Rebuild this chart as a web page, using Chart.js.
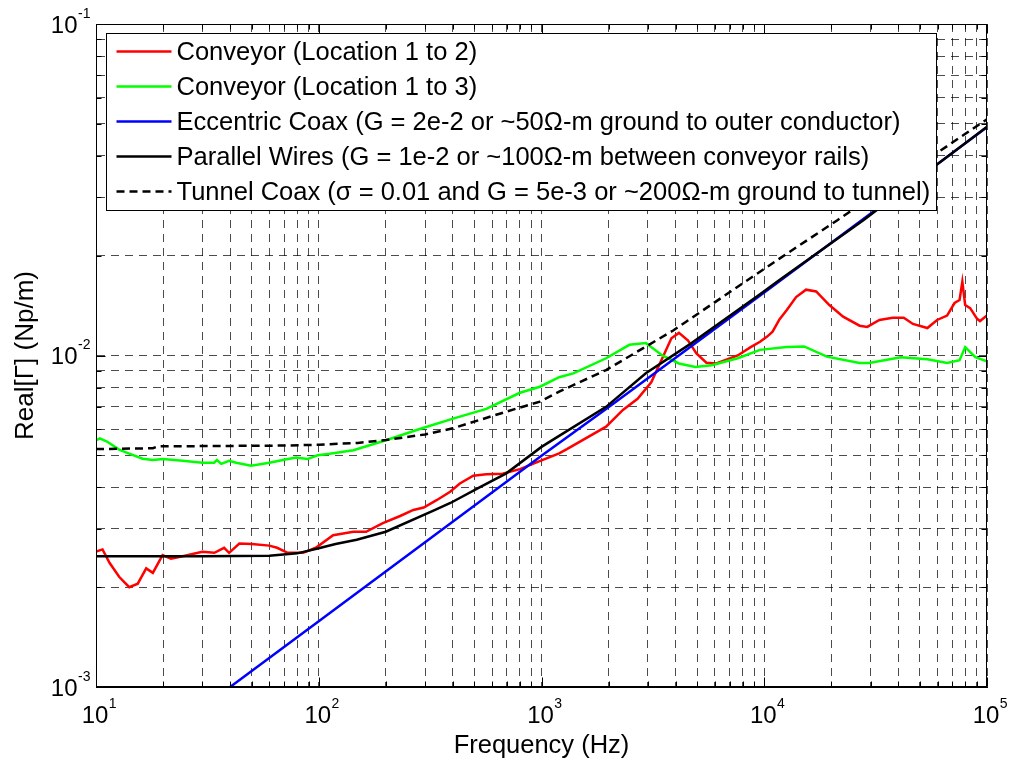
<!DOCTYPE html>
<html>
<head>
<meta charset="utf-8">
<title>Real[Γ] vs Frequency</title>
<script src="https://cdn.jsdelivr.net/npm/chart.js@4.4.1/dist/chart.umd.min.js"></script>
<style>
  html, body { margin: 0; padding: 0; background: #fff; }
  #wrap { width: 1011px; height: 761px; }
</style>
</head>
<body>
<div id="wrap"><canvas id="gammaChart" width="1011" height="761"></canvas></div>
<script>
// ---- data (Hz, Np/m) ----
const redFreq = [10, 10.7, 11.5, 12.7, 14.1, 15.4, 16.8, 18, 19.9, 21.7, 24.5, 30, 34, 37.6, 39.6, 44, 50, 60, 65, 72.5, 85, 97,
  116, 143, 163, 194, 232, 266, 296, 338, 389, 430, 494, 565, 668, 800, 950, 1200, 1300, 1950, 2320, 2700, 3110, 3510, 3830,
  4140, 4550, 4960, 5500, 6090, 7600, 8690, 9570, 10300, 10900, 11700, 12600, 13900, 15400, 17100, 19600, 22600, 26800,
  29000, 32900, 37700, 42300, 46500, 54000, 59700, 66200, 71500, 75300, 77500, 79800, 84000, 90300, 93000, 100000];
const redVal = [2.56e-3, 2.60e-3, 2.37e-3, 2.15e-3, 2.0e-3, 2.05e-3, 2.28e-3, 2.21e-3, 2.5e-3, 2.44e-3, 2.48e-3, 2.56e-3, 2.54e-3,
  2.63e-3, 2.54e-3, 2.71e-3, 2.70e-3, 2.67e-3, 2.63e-3, 2.54e-3, 2.54e-3, 2.63e-3, 2.87e-3, 2.94e-3, 2.94e-3, 3.12e-3, 3.28e-3,
  3.42e-3, 3.48e-3, 3.66e-3, 3.88e-3, 4.11e-3, 4.34e-3, 4.38e-3, 4.40e-3, 4.54e-3, 4.76e-3, 5.07e-3, 5.22e-3, 6.1e-3, 6.85e-3,
  7.4e-3, 8.3e-3, 9.92e-3, 1.127e-2, 1.17e-2, 1.11e-2, 1.015e-2, 9.51e-3, 9.46e-3, 1.0e-2, 1.06e-2, 1.1e-2, 1.14e-2, 1.18e-2,
  1.285e-2, 1.37e-2, 1.5e-2, 1.58e-2, 1.56e-2, 1.42e-2, 1.31e-2, 1.23e-2, 1.22e-2, 1.28e-2, 1.30e-2, 1.30e-2, 1.245e-2, 1.21e-2,
  1.28e-2, 1.32e-2, 1.44e-2, 1.47e-2, 1.67e-2, 1.42e-2, 1.39e-2, 1.29e-2, 1.27e-2, 1.32e-2];

const greenFreq = [10, 10.4, 11.2, 12.7, 14.1, 16.2, 18, 20, 24.5, 30, 33.9, 34.9, 36.5, 39.6, 42.6, 49.7, 60, 69, 79, 89, 99, 112,
  143, 202, 284, 401, 565, 800, 984, 1200, 1390, 1950, 2480, 2940, 3490, 4140, 4900, 5810, 7600, 9570, 12600, 15100, 19100,
  26800, 29600, 41000, 54000, 66200, 75300, 79800, 88700, 100000];
const greenVal = [5.55e-3, 5.62e-3, 5.5e-3, 5.2e-3, 5.06e-3, 4.88e-3, 4.84e-3, 4.87e-3, 4.81e-3, 4.75e-3, 4.75e-3, 4.84e-3, 4.71e-3,
  4.81e-3, 4.75e-3, 4.65e-3, 4.75e-3, 4.84e-3, 4.92e-3, 4.87e-3, 5.0e-3, 5.05e-3, 5.18e-3, 5.56e-3, 6.0e-3, 6.45e-3, 6.9e-3,
  7.72e-3, 8.05e-3, 8.6e-3, 8.83e-3, 9.81e-3, 1.077e-2, 1.09e-2, 1.0e-2, 9.46e-3, 9.24e-3, 9.34e-3, 9.81e-3, 1.04e-2, 1.06e-2,
  1.065e-2, 9.92e-3, 9.5e-3, 9.5e-3, 9.88e-3, 9.74e-3, 9.5e-3, 9.68e-3, 1.06e-2, 9.88e-3, 9.6e-3];

const blueFreq = [40, 100, 1000, 1950, 10000, 100000];
const blueVal = [1.0e-3, 1.58e-3, 4.98e-3, 6.9e-3, 1.55e-2, 4.88e-2];

const blackFreq = [10, 30, 60, 80, 100, 119, 148, 200, 333, 390, 527, 695, 1000, 1200, 1950, 2940, 4700, 9570, 11700, 27850, 100000];
const blackVal = [2.48e-3, 2.48e-3, 2.49e-3, 2.53e-3, 2.62e-3, 2.70e-3, 2.78e-3, 2.94e-3, 3.42e-3, 3.59e-3, 4.0e-3, 4.41e-3,
  5.3e-3, 5.72e-3, 7.0e-3, 8.84e-3, 1.088e-2, 1.53e-2, 1.69e-2, 2.56e-2, 4.9e-2];

const dashFreq = [10, 18, 19, 70, 100, 150, 200, 300, 400, 695, 984, 1200, 1950, 3900, 9570, 11700, 21300, 50000, 100000];
const dashVal = [5.22e-3, 5.25e-3, 5.32e-3, 5.35e-3, 5.38e-3, 5.45e-3, 5.56e-3, 5.78e-3, 6.03e-3, 6.77e-3, 7.26e-3, 7.78e-3,
  9.04e-3, 1.19e-2, 1.79e-2, 1.96e-2, 2.56e-2, 3.77e-2, 5.16e-2];

const seriesLabels = [
  'Conveyor (Location 1 to 2)',
  'Conveyor (Location 1 to 3)',
  'Eccentric Coax (G = 2e-2 or ~50Ω-m ground to outer conductor)',
  'Parallel Wires (G = 1e-2 or ~100Ω-m between conveyor rails)',
  'Tunnel Coax (σ = 0.01 and G = 5e-3 or ~200Ω-m ground to tunnel)'
];

// axis ticks: decades and their exponent labels
const xTickValues = [10, 100, 1000, 10000, 100000];
const xTickExps = ['1', '2', '3', '4', '5'];
const yTickValues = [0.001, 0.01, 0.1];
const yTickExps = ['-3', '-2', '-1'];
const minorSteps = [2, 3, 4, 5, 6, 7, 8, 9];

const xLabel = 'Frequency (Hz)';
const yLabel = 'Real[Γ] (Np/m)';

// grid values: every decade plus 2..9 inside it
function logGrid(decades) {
  const out = [];
  decades.forEach((d, i) => {
    out.push(d);
    if (i < decades.length - 1) minorSteps.forEach(m => out.push(d * m));
  });
  return out;
}
const xGrid = logGrid(xTickValues);
const yGrid = logGrid(yTickValues);

function pairs(fs, vs) {
  return fs.map((f, i) => ({ x: f, y: vs[i] }));
}

const FONT = 'Arial, "Liberation Sans", Helvetica, sans-serif';

function isDecade(v) {
  const l = Math.log10(v);
  return Math.abs(l - Math.round(l)) < 1e-9;
}

function baseWidth(ctx) {
  ctx.font = '24px ' + FONT;
  return ctx.measureText('10').width;
}
function drawPow(ctx, exp, left, baseline) {
  ctx.font = '24px ' + FONT;
  ctx.fillText('10', left, baseline);
  const w = ctx.measureText('10').width;
  ctx.font = '14px ' + FONT;
  ctx.fillText(exp, left + w + 0.5, baseline - 15);
}
function powWidth(ctx, exp) {
  const w = baseWidth(ctx);
  ctx.font = '14px ' + FONT;
  return w + 0.5 + ctx.measureText(exp).width;
}

const matlabAxes = {
  id: 'matlabAxes',
  afterDraw(chart) {
    const { ctx, chartArea: a, scales: { x, y } } = chart;
    const L = Math.round(a.left) + 0.5, R = Math.round(a.right) - 0.5;
    const T = Math.round(a.top) + 0.5, B = Math.round(a.bottom) - 0.5;
    ctx.save();
    ctx.strokeStyle = '#000';
    ctx.lineWidth = 1;
    ctx.setLineDash([]);
    ctx.strokeRect(L, T, R - L, B - T);

    // inward tick marks on all four sides
    ctx.beginPath();
    xGrid.forEach(v => {
      const px = Math.round(x.getPixelForValue(v)) + 0.5;
      const len = isDecade(v) ? 9 : 5;
      ctx.moveTo(px, B); ctx.lineTo(px, B - len);
      ctx.moveTo(px, T); ctx.lineTo(px, T + len);
    });
    yGrid.forEach(v => {
      const py = Math.round(y.getPixelForValue(v)) + 0.5;
      const len = isDecade(v) ? 9 : 5;
      ctx.moveTo(L, py); ctx.lineTo(L + len, py);
      ctx.moveTo(R, py); ctx.lineTo(R - len, py);
    });
    ctx.stroke();

    // tick labels 10^n ("10" centred on the tick, exponent to its right)
    ctx.fillStyle = '#000';
    ctx.textBaseline = 'alphabetic';
    ctx.textAlign = 'left';
    xTickValues.forEach((v, i) => {
      const px = x.getPixelForValue(v);
      const w = baseWidth(ctx);
      drawPow(ctx, xTickExps[i], px - w / 2 - 1, B + 36);
    });
    yTickValues.forEach((v, i) => {
      const py = y.getPixelForValue(v);
      const w = powWidth(ctx, yTickExps[i]);
      drawPow(ctx, yTickExps[i], L - 6 - w, py + 8.5);
    });

    // axis titles
    ctx.textAlign = 'center';
    ctx.font = '25.5px ' + FONT;
    ctx.fillText(xLabel, (a.left + a.right) / 2, 753);
    ctx.save();
    ctx.font = '26px ' + FONT;
    ctx.translate(33, (a.top + a.bottom) / 2);
    ctx.rotate(-Math.PI / 2);
    ctx.fillText(yLabel, 0, 0);
    ctx.restore();

    // legend box inside the axes, top-left
    const sets = chart.data.datasets;
    ctx.font = '22px ' + FONT;
    let maxW = 0;
    sets.forEach(d => { maxW = Math.max(maxW, ctx.measureText(d.label).width); });
    const fs = Math.max(18, Math.min(26, 22 * 754 / maxW));
    ctx.font = fs + 'px ' + FONT;
    maxW = 0;
    sets.forEach(d => { maxW = Math.max(maxW, ctx.measureText(d.label).width); });
    const bx = Math.round(a.left) + 10.5, by = Math.round(a.top) + 9.5;
    const textX = bx + 70;
    const bw = Math.round(textX + maxW + 6 - bx), bh = 177;
    ctx.fillStyle = '#fff';
    ctx.fillRect(bx, by, bw, bh);
    ctx.strokeStyle = '#000';
    ctx.lineWidth = 1;
    ctx.strokeRect(bx, by, bw, bh);
    ctx.textAlign = 'left';
    ctx.textBaseline = 'middle';
    sets.forEach((d, i) => {
      const cy = by + 18 + i * 35;
      ctx.strokeStyle = d.borderColor;
      ctx.lineWidth = d.borderWidth;
      ctx.setLineDash(d.borderDash || []);
      ctx.beginPath();
      ctx.moveTo(bx + 10, cy);
      ctx.lineTo(bx + 65, cy);
      ctx.stroke();
      ctx.setLineDash([]);
      ctx.fillStyle = '#000';
      ctx.fillText(d.label, textX, cy + 1);
    });
    ctx.restore();
  }
};

function series(label, fs, vs, color, order, dash) {
  return {
    label: label,
    data: pairs(fs, vs),
    borderColor: color,
    backgroundColor: color,
    borderWidth: 2.5,
    borderDash: dash || [],
    pointRadius: 0,
    tension: 0,
    fill: false,
    order: order
  };
}

const gridOpts = { color: 'rgba(0,0,0,0.7)', lineWidth: 1, drawTicks: false };
const borderOpts = { display: true, color: '#000', width: 1, dash: [8, 6] };

new Chart(document.getElementById('gammaChart'), {
  type: 'line',
  data: {
    datasets: [
      series(seriesLabels[0], redFreq, redVal, '#ff0000', 5),
      series(seriesLabels[1], greenFreq, greenVal, '#00ff00', 4),
      series(seriesLabels[2], blueFreq, blueVal, '#0000ff', 3),
      series(seriesLabels[3], blackFreq, blackVal, '#000000', 2),
      series(seriesLabels[4], dashFreq, dashVal, '#000000', 1, [8, 5])
    ]
  },
  options: {
    responsive: false,
    animation: false,
    devicePixelRatio: 1,
    layout: { padding: { left: 96, top: 24, right: 24, bottom: 74 } },
    plugins: { legend: { display: false }, tooltip: { enabled: false } },
    scales: {
      x: {
        type: 'logarithmic', min: 10, max: 100000,
        afterBuildTicks: s => { s.ticks = xGrid.map(v => ({ value: v })); },
        ticks: { display: false },
        grid: gridOpts,
        border: borderOpts
      },
      y: {
        type: 'logarithmic', min: 0.001, max: 0.1,
        afterBuildTicks: s => { s.ticks = yGrid.map(v => ({ value: v })); },
        ticks: { display: false },
        grid: gridOpts,
        border: borderOpts
      }
    }
  },
  plugins: [matlabAxes]
});
</script>
</body>
</html>
